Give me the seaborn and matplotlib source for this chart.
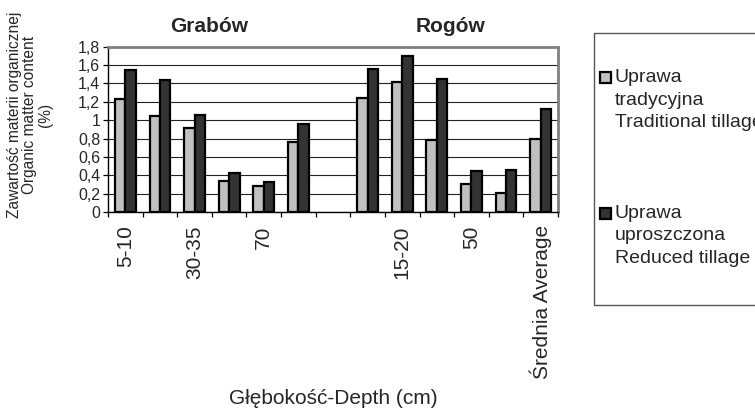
import numpy as np
import pandas as pd
import matplotlib
matplotlib.use("Agg")
import matplotlib.pyplot as plt
from matplotlib.patches import Rectangle
import seaborn as sns

# Organic matter content (%) by depth, two sites, two tillage systems
sites = ["Grabów", "Rogów"]
grabow_labels = ["5-10", "", "30-35", "", "70", ""]
rogow_labels = ["", "15-20", "", "50", "", "Średnia Average"]
grabow_traditional = [1.23, 1.05, 0.92, 0.34, 0.28, 0.76]
grabow_reduced = [1.55, 1.44, 1.06, 0.43, 0.33, 0.96]
rogow_traditional = [1.24, 1.42, 0.78, 0.31, 0.21, 0.79]
rogow_reduced = [1.56, 1.70, 1.45, 0.45, 0.46, 1.12]
series_names = ["Uprawa\ntradycyjna\nTraditional tillage",
                "Uprawa\nuproszczona\nReduced tillage"]
series_colors = ["#C0C0C0", "#333333"]
y_ticks = [0, 0.2, 0.4, 0.6, 0.8, 1.0, 1.2, 1.4, 1.6, 1.8]
y_tick_labels = ["0", "0,2", "0,4", "0,6", "0,8", "1", "1,2", "1,4", "1,6", "1,8"]

# one empty slot separates the two sites
n = len(grabow_labels)
positions_g = list(range(n))
positions_r = [n + 1 + i for i in range(n)]
all_positions = list(range(2 * n + 1))
tick_labels = grabow_labels + [""] + rogow_labels

rows = []
for pos, t, r in zip(positions_g, grabow_traditional, grabow_reduced):
    rows.append((pos, series_names[0], t))
    rows.append((pos, series_names[1], r))
for pos, t, r in zip(positions_r, rogow_traditional, rogow_reduced):
    rows.append((pos, series_names[0], t))
    rows.append((pos, series_names[1], r))
df = pd.DataFrame(rows, columns=["pos", "tillage", "value"])

sns.set_theme(style="white")
plt.rcParams["font.family"] = ["Liberation Sans", "DejaVu Sans"]

W, H = 755, 416
fig = plt.figure(figsize=(W / 100, H / 100), dpi=100)
ax = fig.add_axes([108 / W, 1 - 212 / H, 450 / W, 165.3 / H])

sns.barplot(data=df, x="pos", y="value", hue="tillage",
            order=all_positions, hue_order=series_names,
            palette=series_colors, width=0.6, edgecolor="black",
            linewidth=1.6, saturation=1, legend=False, ax=ax)

ax.set_xlim(-0.5, len(all_positions) - 0.5)
ax.set_ylim(0, 1.8)
ax.yaxis.grid(True, color="#222222", linewidth=0.8)
ax.set_axisbelow(True)

ax.set_yticks(y_ticks)
ax.set_yticklabels(y_tick_labels, fontsize=11.5)
ax.tick_params(axis="y", length=3.6, width=0.9, color="black", pad=2, left=True)

label_pos = [p for p, t in zip(all_positions, tick_labels) if t]
ax.set_xticks(label_pos)
ax.set_xticklabels([t for t in tick_labels if t], rotation=90, fontsize=15)
ax.set_xticks(np.arange(-0.5, len(all_positions), 1.0), minor=True)
ax.tick_params(axis="x", which="major", length=0, pad=9.5)
ax.tick_params(axis="x", which="minor", length=3.6, width=0.9, color="black",
               bottom=True)

for side in ("left", "bottom"):
    ax.spines[side].set_color("black")
    ax.spines[side].set_linewidth(1.0)
for side in ("top", "right"):
    ax.spines[side].set_color("#808080")
    ax.spines[side].set_linewidth(2.0)

ax.set_xlabel("")
ax.set_ylabel("")

fig.text(30 / W, 1 - 115 / H,
         "Zawartość materii organicznej\nOrganic matter content\n(%)",
         rotation=90, ha="center", va="center", multialignment="center",
         fontsize=11.2, linespacing=1.08)
fig.text(333 / W, 1 - 398 / H, "Głębokość-Depth (cm)", ha="center",
         va="center", fontsize=15)

fig.text(209 / W, 1 - 26 / H, sites[0], ha="center", va="center",
         fontsize=15, fontweight="bold")
fig.text(450 / W, 1 - 26 / H, sites[1], ha="center", va="center",
         fontsize=15, fontweight="bold")

# legend panel
fig.patches.append(Rectangle((594 / W, 1 - 305 / H), 200 / W, 272 / H,
                             transform=fig.transFigure, facecolor="white",
                             edgecolor="#555555", linewidth=1.0))
for (cy, name, color) in [(77.5, series_names[0], series_colors[0]),
                          (213, series_names[1], series_colors[1])]:
    fig.patches.append(Rectangle((599.5 / W, 1 - (cy + 5.5) / H), 11 / W, 11 / H,
                                 transform=fig.transFigure, facecolor=color,
                                 edgecolor="black", linewidth=1.6))
    fig.text(615 / W, 1 - (cy - 8) / H, name, ha="left", va="top",
             fontsize=14, linespacing=1.42)

fig.savefig("out.png", dpi=100)
